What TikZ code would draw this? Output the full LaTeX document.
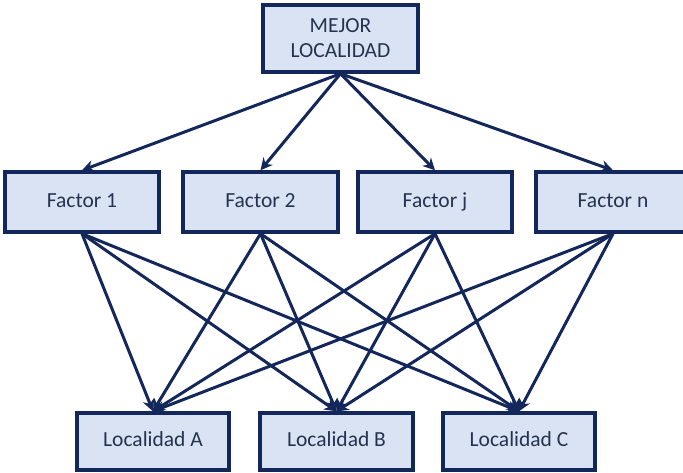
\documentclass[tikz,border=0pt]{standalone}
\usepackage{fontspec}
\setmainfont{Carlito}
\usetikzlibrary{arrows.meta}
\definecolor{boxfill}{HTML}{DAE3F3}
\definecolor{navy}{HTML}{14275A}
\definecolor{txt}{HTML}{263350}
\begin{document}
\begin{tikzpicture}[x=1pt,y=1pt,
  box/.style={draw=navy,line width=3.4pt,fill=boxfill,text=txt,font=\fontsize{21.5}{25}\selectfont,inner sep=0pt},
  onel/.style={box,text height=15pt,text depth=4pt},
  conn/.style={draw=navy,line width=3pt,-{Stealth[length=12pt,width=12pt]}}]
\useasboundingbox (0,0) rectangle (683,473);
\node[box,align=center,minimum width=155pt,minimum height=67pt] (top) at (340.5,434.5) {MEJOR\\LOCALIDAD};
\node[onel,minimum width=154pt,minimum height=60pt] (f1) at (82,271) {Factor 1};
\node[onel,minimum width=155pt,minimum height=60pt] (f2) at (260.5,271) {Factor 2};
\node[onel,minimum width=154pt,minimum height=60pt] (fj) at (435,271) {Factor j};
\node[onel,minimum width=154pt,minimum height=60pt] (fn) at (613,271) {Factor n};
\node[onel,minimum width=152pt,minimum height=57pt] (la) at (153,31.5) {Localidad A};
\node[onel,minimum width=153pt,minimum height=57pt] (lb) at (336.5,31.5) {Localidad B};
\node[onel,minimum width=152pt,minimum height=57pt] (lc) at (519,31.5) {Localidad C};
\foreach \f in {f1,f2,fj,fn}{
  \draw[conn] (top.south) -- (\f.north);
}
\foreach \f in {f1,f2,fj,fn}{
  \foreach \l in {la,lb,lc}{
    \draw[conn] (\f.south) -- (\l.north);
  }
}
\end{tikzpicture}
\end{document}
